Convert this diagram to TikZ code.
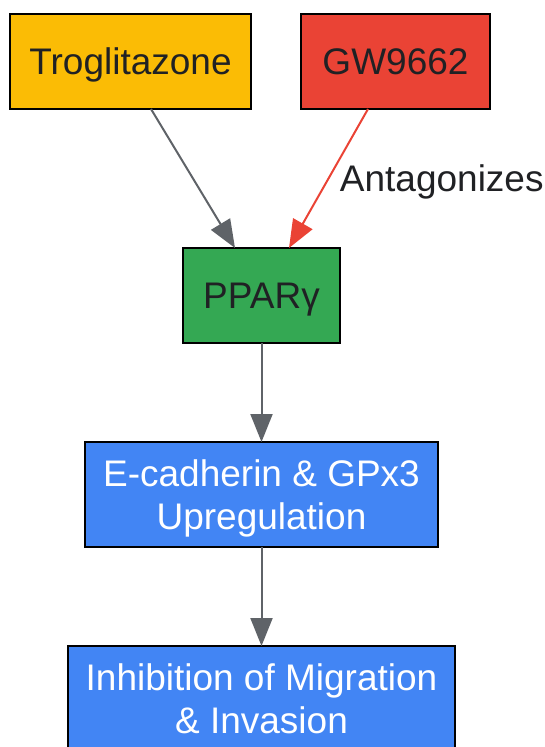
\documentclass[tikz,border=0pt]{standalone}
\usepackage{fontspec}
\setmainfont{Liberation Sans}
\usetikzlibrary{arrows.meta}
\definecolor{cyellow}{HTML}{FBBC05}
\definecolor{cred}{HTML}{EA4335}
\definecolor{cgreen}{HTML}{34A853}
\definecolor{cblue}{HTML}{4285F4}
\definecolor{ctext}{HTML}{202124}
\definecolor{cgray}{HTML}{5F6368}
\tikzset{
  box/.style={draw=black, line width=2pt, rectangle, inner sep=0pt, outer sep=0pt,
    font=\fontsize{37}{43.5}\selectfont, align=center, text=ctext, text depth=-3pt},
  link/.style={line width=2pt, draw=cgray, -{Triangle[length=28pt,width=22pt]}},
  redlink/.style={line width=2pt, draw=cred, -{Triangle[length=28pt,width=22pt]}},
  lbl/.style={font=\fontsize{37}{43.5}\selectfont, text=ctext, inner sep=0pt}
}
\begin{document}
\begin{tikzpicture}[x=1pt,y=1pt]
\useasboundingbox (0,0) rectangle (545,-747);
\node[box, fill=cyellow, minimum width=241pt, minimum height=95pt] (trog) at (130.5,-61.5) {Troglitazone};
\node[box, fill=cred, minimum width=189pt, minimum height=95pt] (gw) at (395.5,-61.5) {GW9662};
\node[box, fill=cgreen, minimum width=157pt, minimum height=95pt] (ppar) at (261.5,-295.5) {PPARγ};
\node[box, fill=cblue, text=white, minimum width=353pt, minimum height=105pt] (ecad) at (261.5,-494.5) {E-cadherin \& GPx3\\Upregulation};
\node[box, fill=cblue, text=white, minimum width=387pt, minimum height=105pt] (inhib) at (261.5,-698.5) {Inhibition of Migration\\\& Invasion};
\draw[link] ([xshift=20.5pt]trog.south) -- ([xshift=-26.5pt]ppar.north);
\draw[redlink] ([xshift=-27.5pt]gw.south) -- ([xshift=27.5pt]ppar.north)
  node[lbl, pos=0.526, anchor=west, xshift=12.5pt] (antag) {Antagonizes};
\draw[link] (ppar.south) -- (ecad.north);
\draw[link] (ecad.south) -- (inhib.north);
\end{tikzpicture}
\end{document}
